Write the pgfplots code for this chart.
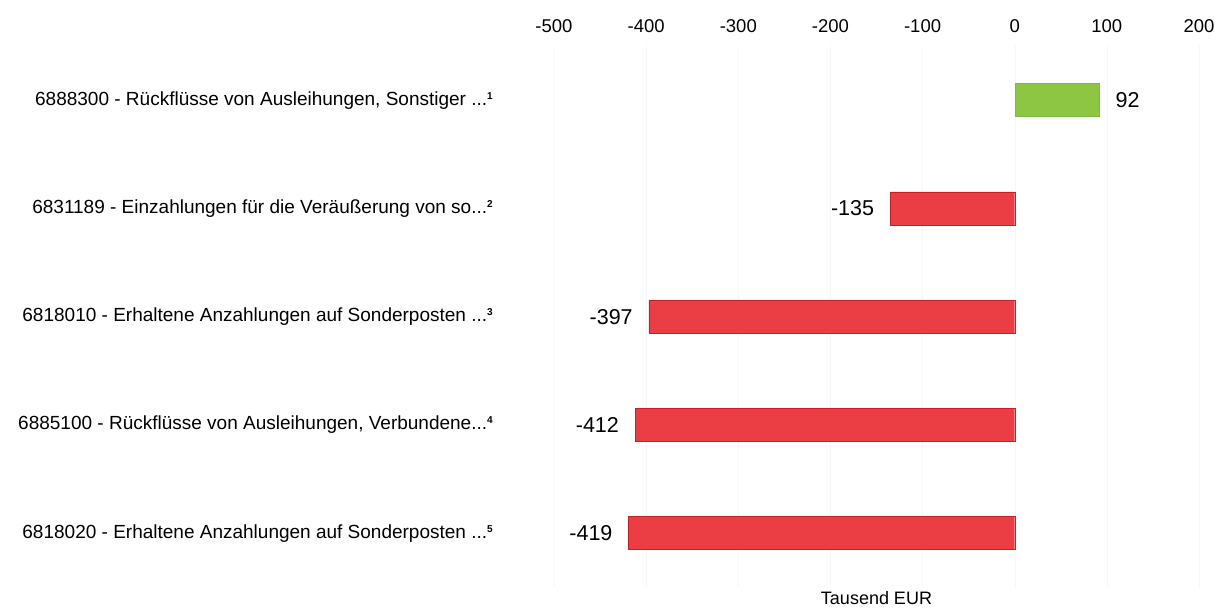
\documentclass[border=0pt]{standalone}
\usepackage{pgfplots}
\pgfplotsset{compat=1.18}
\usepackage{fontspec}
\setmainfont{Liberation Sans}
\definecolor{barred}{RGB}{234,62,68}
\definecolor{barredline}{RGB}{200,30,40}
\definecolor{bargreen}{RGB}{141,198,67}
\definecolor{bargreenline}{RGB}{125,185,70}
\newcommand{\dd}{.{}.{}.}
\newcommand{\fn}[1]{\raisebox{6pt}{\fontsize{10}{10}\selectfont\bfseries #1}}
\begin{document}
\begin{tikzpicture}
\begin{axis}[
 name=ax,
 scale only axis,
 width=645pt, height=541.25pt,
 xmin=-500, xmax=200,
 ymin=-0.5, ymax=4.5,
 y dir=reverse,
 xbar, bar width=33pt, bar shift=0pt,
 xtick={-500,-400,-300,-200,-100,0,100,200},
 ytick={0,1,2,3,4},
 yticklabels={
  {6888300 - Rückflüsse von Ausleihungen, Sonstiger \dd\fn{1}},
  {6831189 - Einzahlungen für die Veräußerung von so\dd\fn{2}},
  {6818010 - Erhaltene Anzahlungen auf Sonderposten \dd\fn{3}},
  {6885100 - Rückflüsse von Ausleihungen, Verbundene\dd\fn{4}},
  {6818020 - Erhaltene Anzahlungen auf Sonderposten \dd\fn{5}}},
 xticklabel pos=top,
 axis line style={draw=none},
 major tick length=0pt,
 xmajorgrids, major grid style={black!3},
 /pgf/number format/assume math mode=true,
 xticklabel style={font=\fontsize{18.5}{20}\selectfont, yshift=10pt},
 yticklabel style={font=\fontsize{19}{22}\selectfont, anchor=east, inner sep=0pt, xshift=-61pt},
 xlabel={Tausend EUR},
 xlabel style={at={(axis description cs:0.5,0)}, anchor=center, yshift=-11pt, font=\fontsize{18}{20}\selectfont},
 nodes near coords,
 every node near coord/.append style={font=\fontsize{21.5}{24}\selectfont, black, inner sep=0pt},
]
\addplot[fill=bargreen, draw=bargreenline, nodes near coords style={anchor=west, xshift=16pt}] coordinates {(92,0)};
\addplot[fill=barred, draw=barredline, nodes near coords style={anchor=east, xshift=-16pt}] coordinates {(-135,1) (-397,2) (-412,3) (-419,4)};
\end{axis}
\pgfresetboundingbox
\path[use as bounding box] ([xshift=-554pt,yshift=-22pt]ax.south west) rectangle ([xshift=16pt,yshift=46pt]ax.north east);
\end{tikzpicture}
\end{document}
